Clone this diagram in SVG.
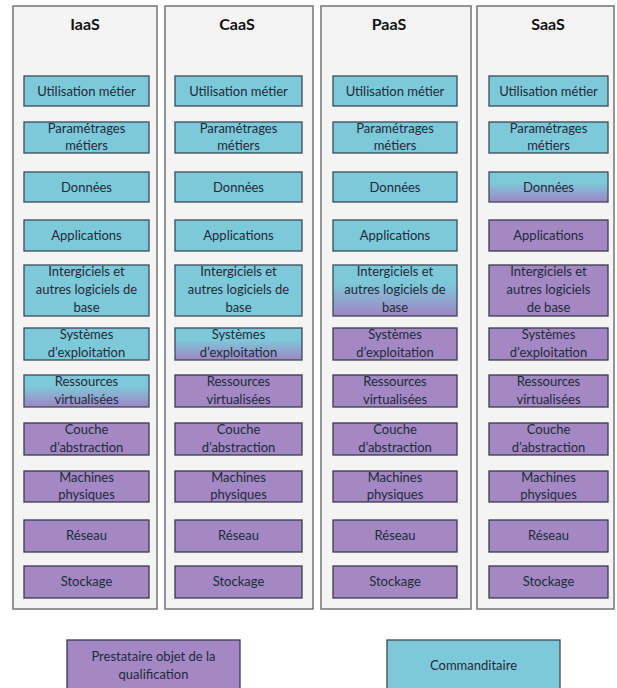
<svg xmlns="http://www.w3.org/2000/svg" width="617" height="688" viewBox="0 0 617 688">
<defs>
<style>
.frame{fill:#f4f4f4;stroke:#747474;stroke-width:1.5}
.c{fill:#7ec9d9;stroke:#3b4a56;stroke-width:1.3}
.p{fill:#a388c4;stroke:#3b3a4a;stroke-width:1.3}
.g{fill:url(#grad);stroke:#3b4a56;stroke-width:1.3}
.t{font-family:Lato,"Open Sans",sans-serif;font-size:13px;fill:#1e2a3a;text-anchor:middle}
.h{font-family:Lato,"Open Sans",sans-serif;font-size:16px;font-weight:bold;fill:#111;text-anchor:middle}
</style>
<linearGradient id="grad" x1="0" y1="0" x2="0" y2="1">
<stop offset="0" stop-color="#7ec9d9"/>
<stop offset="0.35" stop-color="#7ec9d9"/>
<stop offset="1" stop-color="#a084c4"/>
</linearGradient>
</defs>
<rect width="617" height="688" fill="#ffffff"/>

<g id="col-iaas">
<rect class="frame" x="13" y="6" width="144" height="603"/>
<text class="h" x="85" y="30">IaaS</text>
<rect class="c" x="24" y="76" width="125" height="30"/><text class="t" x="86.5" y="96">Utilisation métier</text>
<rect class="c" x="24" y="122" width="125" height="31"/><text class="t" x="86.5" y="133">Paramétrages</text><text class="t" x="86.5" y="150">métiers</text>
<rect class="c" x="24" y="172" width="125" height="30"/><text class="t" x="86.5" y="192">Données</text>
<rect class="c" x="24" y="220" width="125" height="31"/><text class="t" x="86.5" y="240">Applications</text>
<rect class="c" x="24" y="265" width="125" height="51"/><text class="t" x="86.5" y="276">Intergiciels et</text><text class="t" x="86.5" y="294">autres logiciels de</text><text class="t" x="86.5" y="312">base</text>
<rect class="c" x="24" y="328" width="125" height="32"/><text class="t" x="86.5" y="339">Systèmes</text><text class="t" x="86.5" y="357">d’exploitation</text>
<rect class="g" x="24" y="375" width="125" height="32"/><text class="t" x="86.5" y="386">Ressources</text><text class="t" x="86.5" y="404">virtualisées</text>
<rect class="p" x="24" y="423" width="125" height="32"/><text class="t" x="86.5" y="434">Couche</text><text class="t" x="86.5" y="452">d’abstraction</text>
<rect class="p" x="24" y="471" width="125" height="31"/><text class="t" x="86.5" y="482">Machines</text><text class="t" x="86.5" y="499">physiques</text>
<rect class="p" x="24" y="520" width="125" height="32"/><text class="t" x="86.5" y="540">Réseau</text>
<rect class="p" x="24" y="566" width="125" height="32"/><text class="t" x="86.5" y="586">Stockage</text>
</g>

<g id="col-caas">
<rect class="frame" x="165" y="6" width="148" height="603"/>
<text class="h" x="237" y="30">CaaS</text>
<rect class="c" x="175" y="76" width="127" height="30"/><text class="t" x="238.5" y="96">Utilisation métier</text>
<rect class="c" x="175" y="122" width="127" height="31"/><text class="t" x="238.5" y="133">Paramétrages</text><text class="t" x="238.5" y="150">métiers</text>
<rect class="c" x="175" y="172" width="127" height="30"/><text class="t" x="238.5" y="192">Données</text>
<rect class="c" x="175" y="220" width="127" height="31"/><text class="t" x="238.5" y="240">Applications</text>
<rect class="c" x="175" y="265" width="127" height="51"/><text class="t" x="238.5" y="276">Intergiciels et</text><text class="t" x="238.5" y="294">autres logiciels de</text><text class="t" x="238.5" y="312">base</text>
<rect class="g" x="175" y="328" width="127" height="32"/><text class="t" x="238.5" y="339">Systèmes</text><text class="t" x="238.5" y="357">d’exploitation</text>
<rect class="p" x="175" y="375" width="127" height="32"/><text class="t" x="238.5" y="386">Ressources</text><text class="t" x="238.5" y="404">virtualisées</text>
<rect class="p" x="175" y="423" width="127" height="32"/><text class="t" x="238.5" y="434">Couche</text><text class="t" x="238.5" y="452">d’abstraction</text>
<rect class="p" x="175" y="471" width="127" height="31"/><text class="t" x="238.5" y="482">Machines</text><text class="t" x="238.5" y="499">physiques</text>
<rect class="p" x="175" y="520" width="127" height="32"/><text class="t" x="238.5" y="540">Réseau</text>
<rect class="p" x="175" y="566" width="127" height="32"/><text class="t" x="238.5" y="586">Stockage</text>
</g>

<g id="col-paas">
<rect class="frame" x="321" y="6" width="150" height="603"/>
<text class="h" x="389" y="30">PaaS</text>
<rect class="c" x="333" y="76" width="124" height="30"/><text class="t" x="395" y="96">Utilisation métier</text>
<rect class="c" x="333" y="122" width="124" height="31"/><text class="t" x="395" y="133">Paramétrages</text><text class="t" x="395" y="150">métiers</text>
<rect class="c" x="333" y="172" width="124" height="30"/><text class="t" x="395" y="192">Données</text>
<rect class="c" x="333" y="220" width="124" height="31"/><text class="t" x="395" y="240">Applications</text>
<rect class="g" x="333" y="265" width="124" height="51"/><text class="t" x="395" y="276">Intergiciels et</text><text class="t" x="395" y="294">autres logiciels de</text><text class="t" x="395" y="312">base</text>
<rect class="p" x="333" y="328" width="124" height="32"/><text class="t" x="395" y="339">Systèmes</text><text class="t" x="395" y="357">d’exploitation</text>
<rect class="p" x="333" y="375" width="124" height="32"/><text class="t" x="395" y="386">Ressources</text><text class="t" x="395" y="404">virtualisées</text>
<rect class="p" x="333" y="423" width="124" height="32"/><text class="t" x="395" y="434">Couche</text><text class="t" x="395" y="452">d’abstraction</text>
<rect class="p" x="333" y="471" width="124" height="31"/><text class="t" x="395" y="482">Machines</text><text class="t" x="395" y="499">physiques</text>
<rect class="p" x="333" y="520" width="124" height="32"/><text class="t" x="395" y="540">Réseau</text>
<rect class="p" x="333" y="566" width="124" height="32"/><text class="t" x="395" y="586">Stockage</text>
</g>

<g id="col-saas">
<rect class="frame" x="477" y="6" width="137" height="603"/>
<text class="h" x="548" y="30">SaaS</text>
<rect class="c" x="489" y="76" width="119" height="30"/><text class="t" x="548.5" y="96">Utilisation métier</text>
<rect class="c" x="489" y="122" width="119" height="31"/><text class="t" x="548.5" y="133">Paramétrages</text><text class="t" x="548.5" y="150">métiers</text>
<rect class="g" x="489" y="172" width="119" height="30"/><text class="t" x="548.5" y="192">Données</text>
<rect class="p" x="489" y="220" width="119" height="31"/><text class="t" x="548.5" y="240">Applications</text>
<rect class="p" x="489" y="265" width="119" height="51"/><text class="t" x="548.5" y="276">Intergiciels et</text><text class="t" x="548.5" y="294">autres logiciels</text><text class="t" x="548.5" y="312">de base</text>
<rect class="p" x="489" y="328" width="119" height="32"/><text class="t" x="548.5" y="339">Systèmes</text><text class="t" x="548.5" y="357">d’exploitation</text>
<rect class="p" x="489" y="375" width="119" height="32"/><text class="t" x="548.5" y="386">Ressources</text><text class="t" x="548.5" y="404">virtualisées</text>
<rect class="p" x="489" y="423" width="119" height="32"/><text class="t" x="548.5" y="434">Couche</text><text class="t" x="548.5" y="452">d’abstraction</text>
<rect class="p" x="489" y="471" width="119" height="31"/><text class="t" x="548.5" y="482">Machines</text><text class="t" x="548.5" y="499">physiques</text>
<rect class="p" x="489" y="520" width="119" height="32"/><text class="t" x="548.5" y="540">Réseau</text>
<rect class="p" x="489" y="566" width="119" height="32"/><text class="t" x="548.5" y="586">Stockage</text>
</g>

<g id="legend-prestataire">
<rect class="p" x="67" y="640" width="173" height="60"/>
<text class="t" x="153.5" y="661">Prestataire objet de la</text>
<text class="t" x="153.5" y="679">qualification</text>
</g>
<g id="legend-commanditaire">
<rect class="c" x="387" y="640" width="173" height="60"/>
<text class="t" x="473.5" y="670">Commanditaire</text>
</g>
<g id="connectors"></g>
</svg>
